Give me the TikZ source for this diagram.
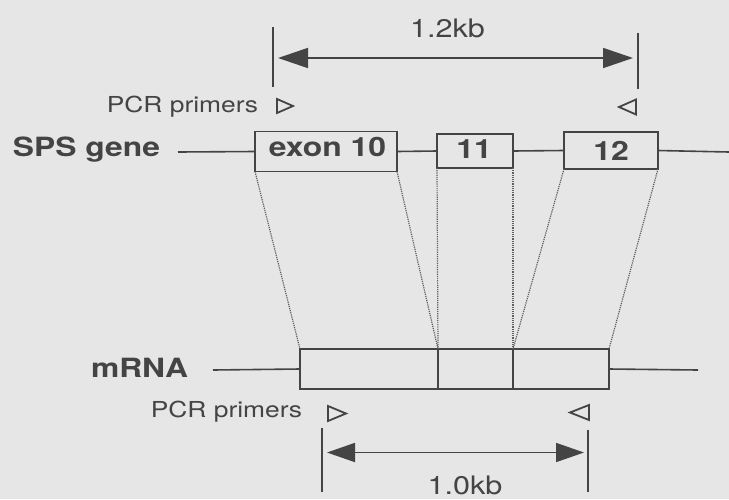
\documentclass[tikz,border=0pt]{standalone}
\usepackage{fontspec}
\setmainfont[FakeStretch=1.2]{TeX Gyre Heros}
\usetikzlibrary{arrows.meta}
\definecolor{bgc}{RGB}{230,230,230}
\definecolor{ink}{RGB}{68,68,68}
\definecolor{dotc}{RGB}{95,95,95}
\begin{document}
\begin{tikzpicture}[x=1pt,y=-1pt,
  every node/.style={inner sep=0pt, outer sep=0pt, text=ink},
  exonbox/.style={draw=ink, line width=1.8pt, minimum height=#1},
  exonbox/.default=40pt,
  exontext/.style={font=\fontsize{26.6}{30}\bfseries\selectfont},
  rowlabel/.style={font=\fontsize{26.5}{30}\bfseries\selectfont},
  primertext/.style={font=\fontsize{22}{26}\selectfont},
  kbtext/.style={font=\fontsize{25.5}{30}\selectfont},
  geneline/.style={draw=ink, line width=1.6pt},
  dimline/.style={draw=ink, line width=1.8pt},
  dimarrow/.style={draw=ink, line width=1.8pt, {Triangle[length=30pt,width=20pt]}-{Triangle[length=30pt,width=20pt]}},
  dimarrowb/.style={draw=ink, line width=1.8pt, {Triangle[length=28pt,width=19pt]}-{Triangle[length=28pt,width=19pt]}},
  splice/.style={draw=dotc, line width=1.2pt, dash pattern=on 1.2pt off 1pt},
  primer/.style={draw=ink, line width=1.8pt, line join=miter}
]
\fill[bgc] (0,0) rectangle (729,499);
\useasboundingbox (0,0) rectangle (729,499);

% ---- top dimension ----
\coordinate (tla) at (273,27);
\coordinate (tlb) at (273,87);
\coordinate (tra) at (638,33);
\coordinate (trb) at (638,89);
\coordinate (tal) at (278,58);
\coordinate (tar) at (633,58);
\draw[dimline] (tla) -- (tlb);
\draw[dimline] (tra) -- (trb);
\draw[dimarrow] (tal) -- (tar);
\node[kbtext, anchor=base] (kbtop) at (447.5,37) {1.2kb};

% ---- top primers ----
\node[primertext, anchor=base east] (pcrtop) at (258,112) {PCR primers};
\draw[primer] (277,99) -- (293,106) -- (277,113) -- cycle;
\draw[primer] (636,99.5) -- (619,107) -- (636,114.5) -- cycle;

% ---- gene ----
\node[rowlabel, anchor=base east] (sps) at (160,156) {SPS gene};
\node[exonbox=40pt, minimum width=142pt] (e10) at (326,151.5) {};
\node[exonbox=34pt, minimum width=76pt] (e11) at (475,151) {};
\node[exonbox=37pt, minimum width=94pt] (e12) at (611,150.5) {};
\node[exontext, anchor=base] (e10t) at (327.5,156.5) {exon 10};
\node[exontext, anchor=base] (e11t) at (474,158) {11};
\node[exontext, anchor=base] (e12t) at (611,160) {12};
\coordinate (gl) at (178,152);
\coordinate (gr) at (729,152);
\draw[geneline] (gl) -- (e10.west);
\draw[geneline] (e10.east) -- (e11.west);
\draw[geneline] (e11.east) -- (e12.west);
\draw[geneline] (e12.east) -- (gr);

% ---- mRNA ----
\node[rowlabel, anchor=base east] (mrna) at (188,377) {mRNA};
\node[exonbox=40pt, minimum width=138pt] (m10) at (369,369) {};
\node[exonbox=40pt, minimum width=75pt] (m11) at (475.5,369) {};
\node[exonbox=40pt, minimum width=96pt] (m12) at (561,369) {};
\coordinate (ml) at (213,370);
\coordinate (mr) at (698,370);
\draw[geneline] (ml) -- (m10.west);
\draw[geneline] (m12.east) -- (mr);

% ---- splice lines ----
\draw[splice] (e10.south west) -- (m10.north west);
\draw[splice] (e10.south east) -- (m10.north east);
\draw[splice] (e11.south west) -- (m11.north west);
\draw[splice] (e11.south east) -- (m11.north east);
\draw[splice] (e12.south west) -- (m12.north west);
\draw[splice] (e12.south east) -- (m12.north east);

% ---- bottom primers ----
\node[primertext, anchor=base east] (pcrbot) at (302,417) {PCR primers};
\draw[primer] (328,406) -- (346,413.5) -- (328,421) -- cycle;
\draw[primer] (589,405) -- (570,412.5) -- (589,420) -- cycle;

% ---- bottom dimension ----
\coordinate (bla) at (322,428);
\coordinate (blb) at (322,492);
\coordinate (bra) at (588,430);
\coordinate (brb) at (588,492);
\coordinate (bal) at (327,452.5);
\coordinate (bar) at (584,452.5);
\draw[dimline] (bla) -- (blb);
\draw[dimline] (bra) -- (brb);
\draw[dimarrowb] (bal) -- (bar);
\node[kbtext, anchor=base] (kbbot) at (465,494) {1.0kb};
\end{tikzpicture}
\end{document}
